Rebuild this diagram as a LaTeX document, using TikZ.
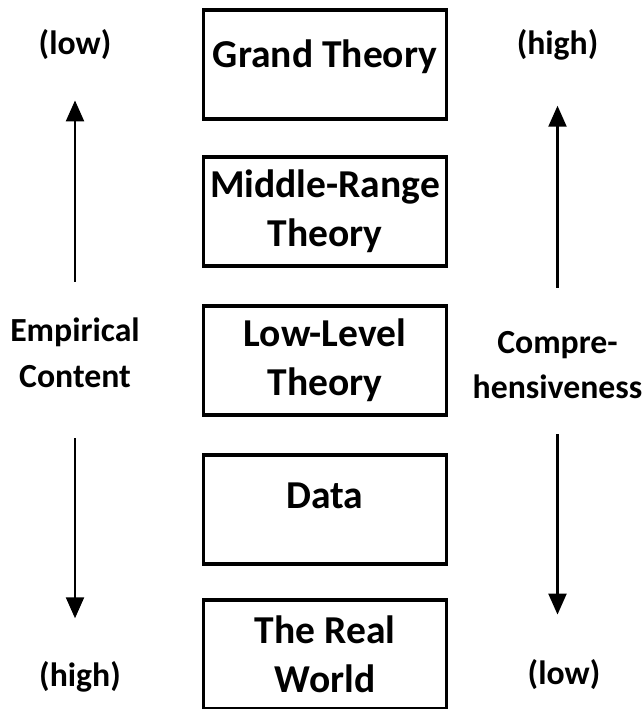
\documentclass[tikz,border=0pt]{standalone}
\usepackage{fontspec}
\setmainfont{Carlito}
\usetikzlibrary{arrows.meta, positioning}

\begin{document}
\begin{tikzpicture}[
          node distance=0.78cm,
          box/.style={rectangle, draw=black, line width=1.9pt, inner sep=2pt, outer sep=0pt,
                      minimum width=4.86cm, minimum height=2.18cm,
                      font=\fontsize{22.5}{27.9}\selectfont\bfseries, align=center},
          side/.style={inner sep=0pt, font=\fontsize{19.2}{26}\selectfont\bfseries, align=center},
          arr/.style={-{Triangle[length=0.42cm, width=0.36cm]}, line width=1.3pt, draw=black}
        ]
        \useasboundingbox (0,0) rectangle (12.86,-14.18);
        % the five levels
        \node[box, text depth=0.45cm] (gt) at (6.5,-1.29) {Grand Theory};
        \node[box, below=0.76cm of gt] (mr) {Middle-Range\\Theory};
        \node[box, below=0.8cm of mr] (ll) {Low-Level\\Theory};
        \node[box, below=0.8cm of ll, text depth=0.55cm] (da) {Data};
        \node[box, below=0.72cm of da] (rw) {The Real\\World};
        % left scale
        \node[side] (lowL) at (1.5,-0.9) {(low)};
        \node[side] (emp) at (1.5,-7.06) {Empirical\\Content};
        \node[side] (highL) at (1.6,-13.54) {(high)};
        \draw[arr, shorten <=0.72cm, shorten >=0.8cm] (emp.north) -- (emp.north |- lowL.south);
        \draw[arr, shorten <=1.0cm, shorten >=0.86cm] (emp.south) -- (emp.south |- highL.north);
        % right scale
        \node[side] (highR) at (11.15,-0.9) {(high)};
        \node[side] (comp) at (11.15,-7.3) {Compre-\\hensiveness};
        \node[side] (lowR) at (11.28,-13.5) {(low)};
        \draw[arr, shorten <=0.86cm, shorten >=0.9cm] (comp.north) -- (comp.north |- highR.south);
        \draw[arr, shorten <=0.7cm, shorten >=0.9cm] (comp.south) -- (comp.south |- lowR.north);
      \end{tikzpicture}
\end{document}
